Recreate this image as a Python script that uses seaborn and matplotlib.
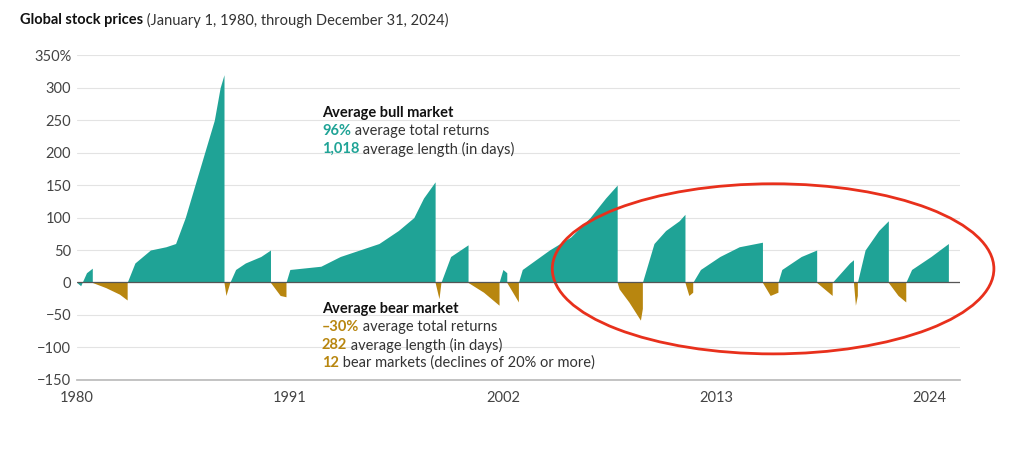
import matplotlib
matplotlib.use("Agg")
import matplotlib.pyplot as plt
import seaborn as sns
from matplotlib.patches import Ellipse

sns.set_theme(style="white")
plt.rcParams['font.family'] = ['Lato', 'DejaVu Sans']

GREEN = "#1fa396"
GOLD = "#b8860f"

# Each market phase: (kind, years, values) — cumulative return since phase start
bull_1 = ([1980.0, 1980.2, 1980.5, 1980.8], [0, -5, 15, 22])
bear_1 = ([1980.8, 1981.5, 1982.2, 1982.6], [0, -8, -18, -27])
bull_2 = ([1982.6, 1983.0, 1983.8, 1984.6, 1985.1, 1985.6, 1986.1, 1986.6, 1987.1, 1987.4, 1987.6],
          [0, 30, 50, 55, 60, 100, 150, 200, 250, 300, 320])
bear_2 = ([1987.6, 1987.7, 1987.9], [0, -20, 0])
bull_3 = ([1987.9, 1988.2, 1988.7, 1989.5, 1990.0], [0, 20, 30, 40, 50])
bear_3 = ([1990.0, 1990.5, 1990.8], [0, -20, -22])
bull_4 = ([1990.8, 1991.0, 1992.6, 1993.6, 1994.6, 1995.6, 1996.6, 1997.4, 1997.9, 1998.5],
          [0, 20, 25, 40, 50, 60, 80, 100, 130, 155])
bear_4 = ([1998.5, 1998.7, 1998.8], [0, -25, 0])
bull_5 = ([1998.8, 1999.3, 2000.2], [0, 40, 58])
bear_5 = ([2000.2, 2001.0, 2001.8], [0, -15, -35])
bull_6 = ([2001.8, 2002.0, 2002.2], [0, 20, 15])
bear_6 = ([2002.2, 2002.5, 2002.8], [0, -15, -30])
bull_7 = ([2002.8, 2003.0, 2004.4, 2005.5, 2006.5, 2007.3, 2007.9], [0, 20, 50, 70, 100, 130, 150])
bear_7 = ([2007.9, 2008.0, 2008.5, 2009.1, 2009.2], [0, -10, -30, -58, -40])
bull_8 = ([2009.2, 2009.8, 2010.4, 2011.1, 2011.4], [0, 60, 80, 95, 105])
bear_8 = ([2011.4, 2011.6, 2011.8], [0, -20, -15])
bull_9 = ([2011.8, 2012.2, 2013.2, 2014.2, 2015.4], [0, 20, 40, 55, 62])
bear_9 = ([2015.4, 2015.8, 2016.2], [0, -20, -15])
bull_10 = ([2016.2, 2016.4, 2017.4, 2018.2], [0, 20, 40, 50])
bear_10 = ([2018.2, 2018.6, 2019.0], [0, -10, -20])
bull_11 = ([2019.0, 2019.9, 2020.1], [0, 30, 35])
bear_11 = ([2020.1, 2020.2, 2020.3], [0, -35, -20])
bull_12 = ([2020.3, 2020.7, 2021.4, 2021.9], [0, 50, 80, 95])
bear_12 = ([2021.9, 2022.4, 2022.8], [0, -20, -30])
bull_13 = ([2022.8, 2023.1, 2024.1, 2025.0], [0, 20, 40, 60])

bulls = [bull_1, bull_2, bull_3, bull_4, bull_5, bull_6, bull_7, bull_8, bull_9, bull_10, bull_11, bull_12, bull_13]
bears = [bear_1, bear_2, bear_3, bear_4, bear_5, bear_6, bear_7, bear_8, bear_9, bear_10, bear_11, bear_12]

x_ticks = [1980, 1991, 2002, 2013, 2024]
y_ticks = [-150, -100, -50, 0, 50, 100, 150, 200, 250, 300, 350]
y_labels = ["−150", "−100", "−50", "0", "50", "100", "150", "200", "250", "300", "350%"]

fig = plt.figure(figsize=(10.24, 4.49), dpi=100)
ax = fig.add_axes([0.075, 0.154, 0.8625, 0.723])

for xs, ys in bulls:
    ax.fill_between(xs, 0, ys, color=GREEN, linewidth=0)
for xs, ys in bears:
    ax.fill_between(xs, 0, ys, color=GOLD, linewidth=0)

ax.set_xlim(1980, 2025.6)
ax.set_ylim(-150, 350)
ax.set_yticks(y_ticks)
ax.set_yticklabels(y_labels)
ax.set_xticks(x_ticks)
ax.tick_params(axis='both', labelsize=10.5, colors="#444444", length=0, pad=4)
ax.tick_params(axis='x', pad=8)
ax.grid(axis='y', color="#e3e3e3", linewidth=0.8)
ax.set_axisbelow(True)
ax.axhline(0, color="#555555", linewidth=0.9)
for s in ["top", "right", "left"]:
    ax.spines[s].set_visible(False)
ax.spines["bottom"].set_color("#bbbbbb")
ax.spines["bottom"].set_position(("data", -150))

ell = Ellipse((2015.95, 21), 22.8, 262, fill=False, edgecolor="#e8301c", linewidth=2, clip_on=False)
ax.add_patch(ell)

fig.canvas.draw()
renderer = fig.canvas.get_renderer()

def rich(xpx, ypx, parts, size=10.5):
    x = xpx
    for txt, color, weight in parts:
        t = fig.text(x / 1024, 1 - ypx / 449, txt, color=color, fontweight=weight,
                     fontsize=size, va="center", ha="left")
        bb = t.get_window_extent(renderer=renderer)
        x += bb.width

rich(20, 20, [("Global stock prices", "#111111", "bold"),
              (" (January 1, 1980, through December 31, 2024)", "#333333", "normal")])
rich(322, 113, [("Average bull market", "#111111", "bold")])
rich(322, 131, [("96%", GREEN, "bold"), (" average total returns", "#333333", "normal")])
rich(322, 149, [("1,018", GREEN, "bold"), (" average length (in days)", "#333333", "normal")])
rich(322, 309, [("Average bear market", "#111111", "bold")])
rich(322, 327, [("–30%", GOLD, "bold"), (" average total returns", "#333333", "normal")])
rich(322, 345, [("282", GOLD, "bold"), (" average length (in days)", "#333333", "normal")])
rich(322, 363, [("12", GOLD, "bold"), (" bear markets (declines of 20% or more)", "#333333", "normal")])

fig.savefig("out.png", dpi=100, facecolor="white")
